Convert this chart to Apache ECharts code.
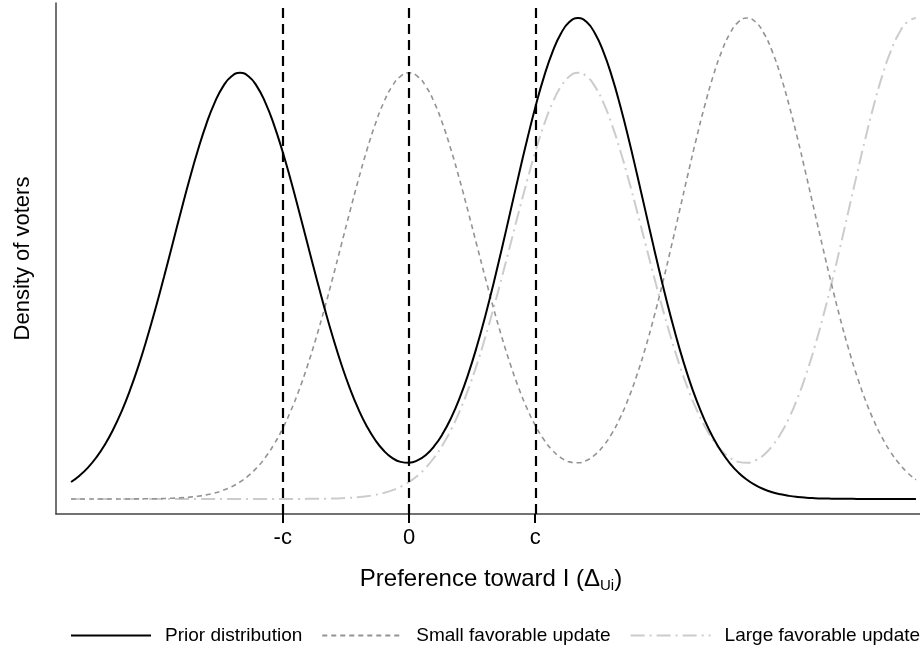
<!DOCTYPE html>
<html>
<head>
<meta charset="utf-8">
<script src="https://cdn.jsdelivr.net/npm/echarts@6/dist/echarts.min.js"></script>
<style>html,body{margin:0;padding:0;background:#fff}#chart{width:920px;height:648px}</style>
</head>
<body>
<div id="chart"></div>
<script>
// x positions (preference toward I, units where the prior modes sit at -1 and +1), step 0.05
var xs = [-2.00,-1.95,-1.90,-1.85,-1.80,-1.75,-1.70,-1.65,-1.60,-1.55,-1.50,-1.45,-1.40,-1.35,-1.30,-1.25,-1.20,-1.15,-1.10,-1.05,
  -1.00,-0.95,-0.90,-0.85,-0.80,-0.75,-0.70,-0.65,-0.60,-0.55,-0.50,-0.45,-0.40,-0.35,-0.30,-0.25,-0.20,-0.15,-0.10,-0.05,
  0.00,0.05,0.10,0.15,0.20,0.25,0.30,0.35,0.40,0.45,0.50,0.55,0.60,0.65,0.70,0.75,0.80,0.85,0.90,0.95,
  1.00,1.05,1.10,1.15,1.20,1.25,1.30,1.35,1.40,1.45,1.50,1.55,1.60,1.65,1.70,1.75,1.80,1.85,1.90,1.95,
  2.00,2.05,2.10,2.15,2.20,2.25,2.30,2.35,2.40,2.45,2.50,2.55,2.60,2.65,2.70,2.75,2.80,2.85,2.90,2.95,3.00];
// density of voters (relative)
var priorDist = [0.0354,0.0485,0.0653,0.0866,0.1129,0.1449,0.1829,0.2273,0.2779,0.3346,0.3961,0.4616,0.5293,0.5972,0.6631,0.7245,0.7790,0.8241,0.8579,0.8789,
  0.8860,0.8789,0.8579,0.8241,0.7790,0.7245,0.6632,0.5974,0.5296,0.4620,0.3968,0.3357,0.2797,0.2301,0.1872,0.1514,0.1226,0.1007,0.0856,0.0772,
  0.0754,0.0801,0.0917,0.1102,0.1360,0.1693,0.2102,0.2591,0.3153,0.3786,0.4477,0.5214,0.5977,0.6742,0.7485,0.8177,0.8792,0.9301,0.9683,0.9920,
  1.0,0.9920,0.9683,0.9301,0.8792,0.8177,0.7484,0.6740,0.5974,0.5210,0.4471,0.3776,0.3137,0.2566,0.2064,0.1635,0.1274,0.0977,0.0737,0.0547,
  0.0400,0.0287,0.0203,0.0141,0.0097,0.0065,0.0043,0.0028,0.0018,0.0011,0.0007,0.0004,0.0003,0.0002,0.0001,0,0,0,0,0,0];
var smallUpdate = [0,0,0,0,0,0,0.0001,0.0001,0.0003,0.0004,0.0006,0.0010,0.0016,0.0025,0.0038,0.0058,0.0086,0.0125,0.0180,0.0254,
  0.0354,0.0485,0.0653,0.0866,0.1129,0.1449,0.1829,0.2273,0.2779,0.3346,0.3961,0.4616,0.5293,0.5972,0.6631,0.7245,0.7790,0.8241,0.8579,0.8789,
  0.8860,0.8789,0.8579,0.8241,0.7790,0.7245,0.6632,0.5974,0.5296,0.4620,0.3968,0.3357,0.2797,0.2301,0.1872,0.1514,0.1226,0.1007,0.0856,0.0772,
  0.0754,0.0801,0.0917,0.1102,0.1360,0.1693,0.2102,0.2591,0.3153,0.3786,0.4477,0.5214,0.5977,0.6742,0.7485,0.8177,0.8792,0.9301,0.9683,0.9920,
  1.0,0.9920,0.9683,0.9301,0.8792,0.8177,0.7484,0.6740,0.5974,0.5210,0.4471,0.3776,0.3137,0.2566,0.2064,0.1635,0.1274,0.0977,0.0737,0.0547,0.0400];
var largeUpdate = [0,0,0,0,0,0,0,0,0,0,0,0,0,0,0,0,0,0,0,0,
  0,0,0,0,0,0,0.0001,0.0001,0.0003,0.0004,0.0006,0.0010,0.0016,0.0025,0.0038,0.0058,0.0086,0.0125,0.0180,0.0254,
  0.0354,0.0485,0.0653,0.0866,0.1129,0.1449,0.1829,0.2273,0.2779,0.3346,0.3961,0.4616,0.5293,0.5972,0.6631,0.7245,0.7790,0.8241,0.8579,0.8789,
  0.8860,0.8789,0.8579,0.8241,0.7790,0.7245,0.6632,0.5974,0.5296,0.4620,0.3968,0.3357,0.2797,0.2301,0.1872,0.1514,0.1226,0.1007,0.0856,0.0772,
  0.0754,0.0801,0.0917,0.1102,0.1360,0.1693,0.2102,0.2591,0.3153,0.3786,0.4477,0.5214,0.5977,0.6742,0.7485,0.8177,0.8792,0.9301,0.9683,0.9920,1.0];
var seriesNames = ['Prior distribution','Small favorable update','Large favorable update'];
// thresholds -c, 0, c
var tickValues = [-0.747, 0, 0.747];
var tickLabels = ['-c', '0', 'c'];

function pairs(ys){ return xs.map(function(x,i){ return [x, ys[i]]; }); }

var FONT = 'Liberation Sans, Arial, sans-serif';
var chart = echarts.init(document.getElementById('chart'), null, {renderer:'canvas'});
chart.setOption({
  animation: false,
  backgroundColor: '#fff',
  grid: {left: 56, right: 0, top: 3, bottom: 134, containLabel: false},
  xAxis: {
    type: 'value', min: -2.089, max: 3.024,
    axisLine: {show: true, onZero: false, lineStyle: {color: '#444', width: 1.5}},
    axisTick: {show: true, customValues: tickValues, length: 9, lineStyle: {color: '#000', width: 2}},
    axisLabel: {show: true, customValues: tickValues, margin: 13, fontSize: 22, color: '#000', fontFamily: FONT,
      formatter: function(v){ var i = tickValues.indexOf(v); return i >= 0 ? tickLabels[i] : ''; }},
    splitLine: {show: false},
    name: '{a|Preference toward I (Δ}{s|Ui}{a|)}',
    nameLocation: 'middle', nameGap: 51,
    nameTextStyle: {fontFamily: FONT, color: '#000', padding: [0,0,0,6], rich: {
      a: {fontSize: 24, fontFamily: FONT, color: '#000', lineHeight: 28},
      s: {fontSize: 15, fontFamily: FONT, color: '#000', lineHeight: 15, verticalAlign: 'bottom'}
    }}
  },
  yAxis: {
    type: 'value', min: -0.0312, max: 1.0312,
    axisLine: {show: true, onZero: false, lineStyle: {color: '#444', width: 1.5}},
    axisTick: {show: false}, axisLabel: {show: false}, splitLine: {show: false},
    name: 'Density of voters', nameLocation: 'middle', nameGap: 22, nameRotate: 90,
    nameTextStyle: {fontSize: 22, fontFamily: FONT, color: '#000'}
  },
  legend: {
    data: seriesNames, left: 70, top: 626, padding: 0, width: 1000,
    itemWidth: 80, itemHeight: 14, itemGap: 19,
    itemStyle: {opacity: 0},
    textStyle: {fontSize: 19, fontFamily: FONT, color: '#000', padding: [0,0,0,9]}
  },
  series: [
    {name: seriesNames[2], type: 'line', data: pairs(largeUpdate), smooth: true, symbol: 'none', z: 2,
      lineStyle: {color: '#cccccc', width: 2, type: [14,5,2,5]}, itemStyle: {color: '#cccccc'}},
    {name: seriesNames[1], type: 'line', data: pairs(smallUpdate), smooth: true, symbol: 'none', z: 3,
      lineStyle: {color: '#939393', width: 1.6, type: [5,4]}, itemStyle: {color: '#939393'}},
    {name: seriesNames[0], type: 'line', data: pairs(priorDist), smooth: true, symbol: 'none', z: 4,
      lineStyle: {color: '#000', width: 2}, itemStyle: {color: '#000'},
      markLine: {silent: true, symbol: ['none','none'], label: {show: false},
        lineStyle: {color: '#000', width: 2.2, type: [10,6]},
        emphasis: {disabled: true},
        data: tickValues.map(function(v){ return {xAxis: v}; })}}
  ]
});
</script>
</body>
</html>
